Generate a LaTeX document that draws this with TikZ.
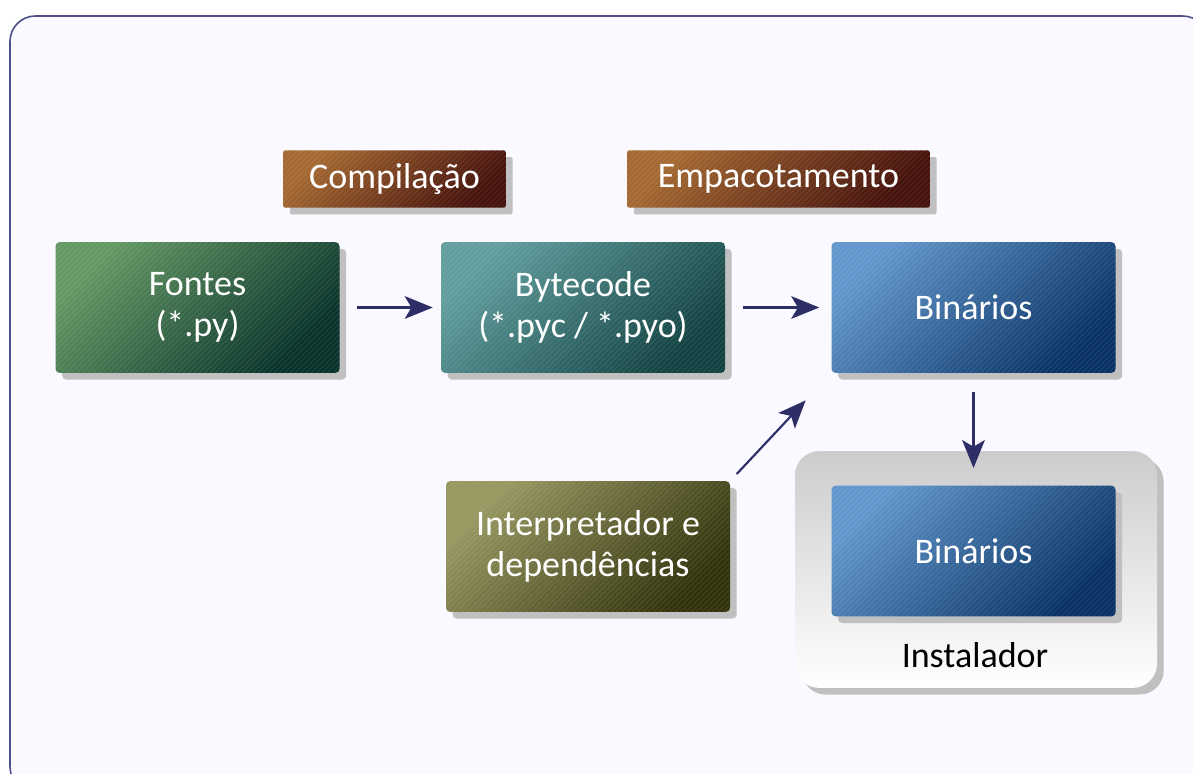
\documentclass[tikz,border=0pt]{standalone}
\usepackage{fontspec}
\setmainfont{Carlito}
\usetikzlibrary{positioning,arrows.meta,shadows}

\definecolor{framec}{RGB}{80,80,136}
\definecolor{bgc}{RGB}{249,249,255}
\definecolor{arrowc}{RGB}{46,46,102}
\definecolor{shadowc}{RGB}{192,192,192}
\definecolor{labtop}{RGB}{165,105,50}
\definecolor{labbot}{RGB}{70,18,12}
\definecolor{srctop}{RGB}{100,152,100}
\definecolor{srcbot}{RGB}{8,50,42}
\definecolor{bytetop}{RGB}{98,158,158}
\definecolor{bytebot}{RGB}{18,66,66}
\definecolor{bintop}{RGB}{98,150,204}
\definecolor{binbot}{RGB}{8,50,100}
\definecolor{deptop}{RGB}{152,152,98}
\definecolor{depbot}{RGB}{50,50,12}

\begin{document}
\begin{tikzpicture}[
  x=0.75pt, y=-0.75pt, >={Stealth[length=21pt,width=17pt,inset=5pt]},
  hatch/.style={path picture={
    \foreach \k in {-26,...,56}
      \draw[white, opacity=.13, line width=.4pt]
        ([xshift=\k*4pt]path picture bounding box.south west) -- ++(110pt,110pt);}},
  shadowed/.style={drop shadow={shadow xshift=5pt, shadow yshift=-5pt, fill=shadowc, opacity=1}},
  box/.style 2 args={shadowed, rounded corners=3pt, top color=#1, bottom color=#2, shading angle=45,
    hatch, minimum width=213pt, minimum height=98pt, text=white, align=center,
    font=\fontsize{27}{31}\selectfont},
  stagelabel/.style={box={labtop}{labbot}, minimum height=43pt, rounded corners=1.5pt},
  flow/.style={->, draw=arrowc, line width=1.6pt}
]
  \useasboundingbox (0,0) rectangle (1193,774);
  \draw[framec, line width=1.2pt, fill=bgc, rounded corners=19pt] (10,16) rectangle (1208,792);

  \node[stagelabel, minimum width=167pt] (comp) at (394.5,179) {Compilação};
  \node[stagelabel, minimum width=227pt] (pack) at (778.5,179) {Empacotamento};

  \node[box={srctop}{srcbot}] (src) at (197.5,307.5) {Fontes\\(*.py)};
  \node[box={bytetop}{bytebot}] (byte) at (583,307.5) {Bytecode\\(*.pyc / *.pyo)};
  \node[box={bintop}{binbot}] (bin) at (973.5,307.5) {Binários};
  \node[box={deptop}{depbot}] (interp) at (588,546.5) {Interpretador e\\dependências};

  \node[shadowed, rounded corners=18pt, top color=black!20, bottom color=white, minimum width=271.5pt, minimum height=177.5pt] (inst) at (976,569.5) {};
  \node[box={bintop}{binbot}] (binpkg) at (973.5,551) {Binários};
  \node[font=\fontsize{27}{31}\selectfont] (instlbl) at (975,655) {Instalador};

  \draw[flow, shorten <=13pt, shorten >=6pt] (src) -- (byte);
  \draw[flow, shorten <=13pt, shorten >=9pt] (byte) -- (bin);
  \draw[flow, shorten <=7pt, shorten >=28pt] (interp.north east) -- (bin.south west);
  \draw[flow, shorten <=14pt, shorten >=13pt] (bin.south) -- (binpkg.north);
\end{tikzpicture}
\end{document}
